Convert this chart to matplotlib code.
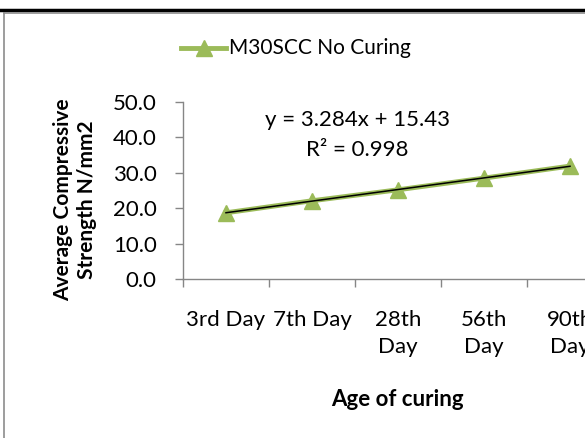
import matplotlib
matplotlib.use("Agg")
import matplotlib.pyplot as plt
import numpy as np
from matplotlib.lines import Line2D

# data
categories = ["3rd Day", "7th Day", "28th\nDay", "56th\nDay", "90th\nDay"]
strength = [18.7, 22.1, 25.2, 28.5, 31.9]
series_name = "M30SCC No Curing"
y_ticks = [0, 10, 20, 30, 40, 50]

GREEN = "#9BBB59"
AXIS_GRAY = "#868686"

plt.rcParams["font.family"] = ["Lato", "DejaVu Sans"]

W, H = 585, 438
fig = plt.figure(figsize=(W / 100, H / 100), dpi=100)

# plot area extends past the right edge (image is cropped there)
x0, x1, ytop, ybot = 183, 613, 102, 279
ax = fig.add_axes([x0 / W, 1 - ybot / H, (x1 - x0) / W, (ybot - ytop) / H])

x = np.arange(1, len(strength) + 1)
ax.plot(x, strength, color=GREEN, linewidth=3.5, marker="^", markersize=12,
        markerfacecolor=GREEN, markeredgecolor=GREEN, zorder=2)

# linear trendline
slope, intercept = np.polyfit(x, strength, 1)
ax.plot(x, slope * x + intercept, color="black", linewidth=1.1, zorder=3)

ax.set_xlim(0.5, len(strength) + 0.5)
ax.set_ylim(0, 50)
ax.set_yticks(y_ticks)
ax.set_yticklabels([f"{v:.1f}" for v in y_ticks], fontsize=16)
ax.set_xticks(np.arange(0.5, len(strength) + 1, 1))
ax.set_xticklabels([])
ax.tick_params(axis="both", direction="out", length=6, width=1, color=AXIS_GRAY)
ax.tick_params(axis="y", pad=13)
ax.xaxis.set_ticks_position("bottom")
for pos, c in zip(x, categories):
    ax.text(pos, -8.7, c, ha="center", va="top", fontsize=16,
            linespacing=1.45, clip_on=False)

for s in ["top", "right"]:
    ax.spines[s].set_visible(False)
for s in ["left", "bottom"]:
    ax.spines[s].set_color(AXIS_GRAY)
    ax.spines[s].set_linewidth(1)

fig.text(357 / W, 1 - 120 / H, "y = 3.284x + 15.43", ha="center", va="center", fontsize=16)
fig.text(357 / W, 1 - 150 / H, "R² = 0.998", ha="center", va="center", fontsize=16)

fig.text(75 / W, 1 - 200 / H, "Average Compressive\nStrength N/mm2", rotation=90,
         ha="center", va="center", fontsize=15, fontweight="bold", linespacing=1.2)
fig.text(397 / W, 1 - 400 / H, "Age of curing", ha="center", va="center",
         fontsize=16, fontweight="bold")

# legend drawn by hand at top
leg_y = 1 - 48 / H
fig.add_artist(Line2D([181 / W, 226 / W], [leg_y, leg_y], color=GREEN, linewidth=3.5))
fig.add_artist(Line2D([203.5 / W], [leg_y], color=GREEN, marker="^", markersize=12))
fig.text(229 / W, leg_y, series_name, ha="left", va="center", fontsize=15)

# chart border (cropped frame)
fig.add_artist(Line2D([0, 1], [1 - 10 / H, 1 - 10 / H], color="black", linewidth=2.5))
fig.add_artist(Line2D([3.5 / W, 1], [1 - 12.5 / H, 1 - 12.5 / H], color="#8c8c8c", linewidth=1.2))
fig.add_artist(Line2D([3.5 / W, 3.5 / W], [0, 1 - 12.5 / H], color="#8c8c8c", linewidth=1.2))

fig.savefig("out.png", dpi=100)
